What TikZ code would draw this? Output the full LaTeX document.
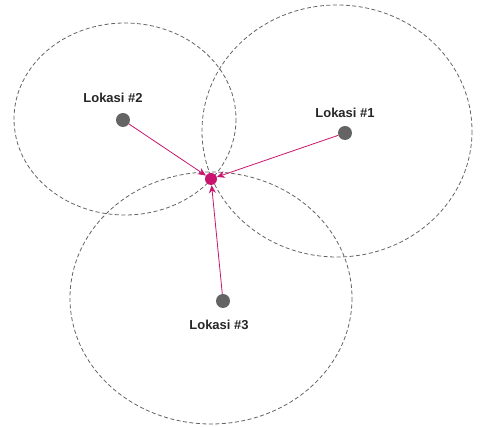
\documentclass[tikz,border=0pt]{standalone}
\definecolor{targetPink}{RGB}{200,20,110}
\definecolor{rangeGray}{RGB}{100,100,100}
\usepackage{fontspec}
\setsansfont{Liberation Sans}
\usepackage{tikz}
\usetikzlibrary{arrows.meta,positioning}

\begin{document}
\begin{tikzpicture}[
        x=1pt, y=-1pt,
        coverage/.style={draw=rangeGray, dash pattern=on 4pt off 2.5pt, line width=0.8pt},
        station/.style={circle, fill=rangeGray, inner sep=0pt, minimum size=14pt},
        target/.style={circle, fill=targetPink, inner sep=0pt, minimum size=12pt},
        lbl/.style={font=\sffamily\bfseries\fontsize{13}{15}\selectfont, text=black!85},
        >={Stealth[length=8pt,width=7pt]}
      ]
        \useasboundingbox (0,0) rectangle (483,427);
        % coverage of each location
        \draw[coverage] (125,119) ellipse [x radius=111, y radius=96];
        \draw[coverage] (337,131) ellipse [x radius=135, y radius=126];
        \draw[coverage] (211,298) ellipse [x radius=141, y radius=126];
        % locations
        \node[station] (loc2) at (123,120) {};
        \node[station] (loc1) at (345,133) {};
        \node[station] (loc3) at (223,301) {};
        \node[target] (pos) at (211,179) {};
        \node[lbl] (lbl2) at (113,98) {Lokasi \#2};
        \node[lbl] (lbl1) at (345,113) {Lokasi \#1};
        \node[lbl] (lbl3) at (219,325) {Lokasi \#3};
        \draw[->,thick,targetPink] (loc2) -- (pos);
        \draw[->,thick,targetPink] (loc1) -- (pos);
        \draw[->,thick,targetPink] (loc3) -- (pos);
      \end{tikzpicture}
\end{document}
